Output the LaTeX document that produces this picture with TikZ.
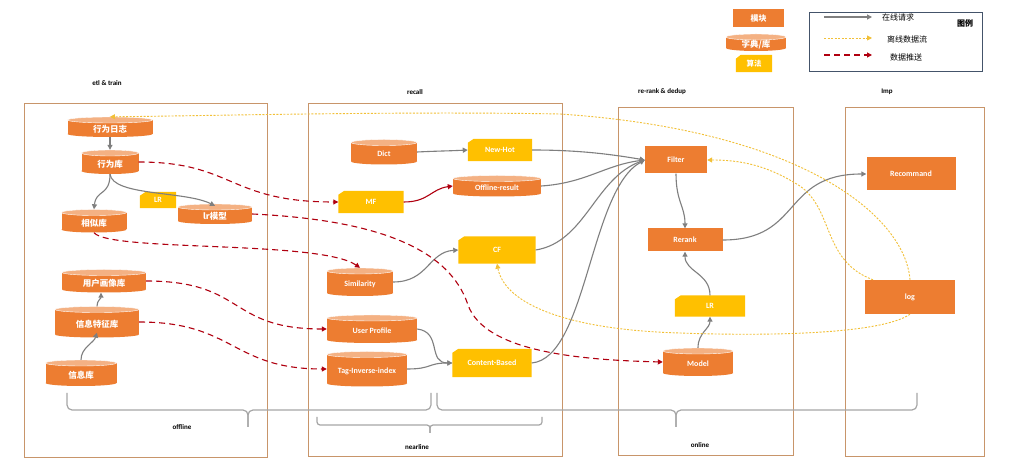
\documentclass[tikz,border=0pt]{standalone}
\usepackage{fontspec}
\setmainfont{Carlito}
\newfontfamily\cjk{Noto Sans CJK SC}
\usetikzlibrary{arrows.meta,calc}
\definecolor{modorange}{HTML}{ED7D31}
\definecolor{cyltopc}{HTML}{F4B183}
\definecolor{algyellow}{HTML}{FFC000}
\definecolor{flowgray}{HTML}{7F7F7F}
\definecolor{pushred}{HTML}{B00010}
\definecolor{offyellow}{HTML}{F2C037}
\definecolor{framec}{HTML}{C8956A}
\definecolor{bracec}{HTML}{A6A6A6}
\definecolor{legendc}{HTML}{44546A}
\tikzset{
  box/.style={inner sep=0pt},
  celltext/.style={text=white, font=\bfseries\fontsize{8}{9}\selectfont, inner sep=0pt},
  cjktext/.style={text=white, font=\cjk\bfseries\fontsize{8.5}{9}\selectfont, inner sep=0pt},
  modbox/.style={fill=modorange, inner sep=0pt, text=white, font=\bfseries\fontsize{8}{9}\selectfont},
  titletext/.style={font=\bfseries\fontsize{7}{8}\selectfont, inner sep=0pt},
  frame/.style={draw=framec, line width=0.8pt},
  flow/.style={draw=flowgray, line width=1.1pt, -{Triangle[length=5pt,width=5pt]}},
  redflow/.style={draw=pushred, line width=1.1pt, -{Triangle[length=5pt,width=5pt]}},
  push/.style={draw=pushred, line width=1.1pt, dash pattern=on 6pt off 4pt, -{Triangle[length=5pt,width=5pt]}},
  offline/.style={draw=offyellow, line width=0.9pt, dash pattern=on 2pt off 1.5pt, -{Triangle[length=5pt,width=5pt]}},
  bracel/.style={draw=bracec, line width=1.2pt, rounded corners=5pt},
  legtext/.style={font=\cjk\fontsize{8}{9}\selectfont, inner sep=0pt},
}
% cylinder: name, cx, cy, w, h, text, textstyle
\newcommand\cylnode[7]{%
  \node[box, minimum width=#4pt, minimum height=#5pt] (#1) at (#2,#3) {};
  \fill[modorange] (#2-#4/2,#3-#5/2+3) rectangle (#2+#4/2,#3+#5/2-3);
  \fill[modorange] (#2,#3+#5/2-3) ellipse [x radius=#4/2, y radius=3];
  \fill[cyltopc, draw=white, line width=0.4pt] (#2,#3-#5/2+3) ellipse [x radius=#4/2, y radius=3];
  \node[#7] at (#2,#3+2) {#6};
}
% algorithm box with cut corner: name, cx, cy, w, h, text
\newcommand\algnode[6]{%
  \node[box, minimum width=#4pt, minimum height=#5pt] (#1) at (#2,#3) {};
  \fill[algyellow] ($(#1.north west)+(6,0)$) -- (#1.north east) -- (#1.south east) -- (#1.south west) -- ($(#1.north west)+(0,4)$) -- cycle;
  \node[celltext] at (#1) {#6};
}
\begin{document}
\begin{tikzpicture}[x=1pt,y=-1pt]
\useasboundingbox (0,0) rectangle (1013,470);
\fill[white] (0,0) rectangle (1013,470);

% frames and titles
\draw[frame] (24,103) rectangle (267,457);
\draw[frame] (308,103) rectangle (562,456);
\draw[frame] (618,107) rectangle (793,455);
\draw[frame] (845,107) rectangle (984,456);
\node[titletext] (t1) at (107,83) {etl \& train};
\node[titletext] (t2) at (415,92) {recall};
\node[titletext] (t3) at (662,92) {re-rank \& dedup};
\node[titletext] (t4) at (887,92) {Imp};

% etl & train
\cylnode{rz}{110}{127}{85}{20}{行为日志}{cjktext}
\cylnode{xwk}{110}{162}{57}{24}{行为库}{cjktext}
\cylnode{xsk}{94}{221}{65}{23}{相似库}{cjktext}
\algnode{lra}{158}{200}{36}{16}{LR}
\cylnode{lrm}{215}{214}{74}{20}{lr模型}{cjktext}
\cylnode{yhk}{104}{281}{84}{23}{用户画像库}{cjktext}
\cylnode{xxtz}{97}{322}{84}{31}{信息特征库}{cjktext}
\cylnode{xxk}{81}{373}{71}{26}{信息库}{cjktext}

% recall
\cylnode{dict}{384}{152}{66}{25}{Dict}{celltext}
\algnode{newhot}{500}{150}{64}{22}{New-Hot}
\cylnode{offres}{497}{186}{88}{21}{Offline-result}{celltext}
\algnode{mf}{371}{202}{65}{22}{MF}
\algnode{cf}{497}{250}{77}{27}{CF}
\cylnode{sim}{360}{282}{66}{28}{Similarity}{celltext}
\cylnode{up}{372}{329}{90}{28}{User Profile}{celltext}
\cylnode{tag}{367}{369}{80}{35}{Tag-Inverse-index}{celltext}
\algnode{cb}{492}{363}{79}{28}{Content-Based}

% online
\node[modbox, minimum width=62pt, minimum height=27pt] (filter) at (676,160) {Filter};
\node[modbox, minimum width=75pt, minimum height=23pt] (rerank) at (685,240) {Rerank};
\algnode{lrb}{710}{306}{70}{21}{LR}
\cylnode{model}{698}{362}{70}{28}{Model}{celltext}

% imp
\node[modbox, minimum width=89pt, minimum height=33pt] (rec) at (911,174) {Recommand};
\node[modbox, minimum width=90pt, minimum height=34pt] (log) at (910,297) {log};

% legend
\node[modbox, minimum width=51pt, minimum height=18pt, font=\cjk\bfseries\fontsize{8}{9}\selectfont] (lgmod) at (758.5,18) {模块};
\cylnode{lgdb}{756}{42.5}{60}{17}{字典/库}{cjktext}
\node[box, minimum width=36pt, minimum height=17pt] (lgalg) at (754,63.5) {};
\fill[algyellow] ($(lgalg.north west)+(5,0)$) -- (lgalg.north east) -- (lgalg.south east) -- (lgalg.south west) -- ($(lgalg.north west)+(0,4)$) -- cycle;
\node[cjktext, font=\cjk\bfseries\fontsize{7.5}{9}\selectfont] at (lgalg) {算法};
\draw[draw=legendc, line width=0.8pt] (809,12) rectangle (982,71);
\coordinate (la1) at (824,17); \coordinate (lb1) at (872,17);
\coordinate (la2) at (824,38); \coordinate (lb2) at (872,38);
\coordinate (la3) at (824,55); \coordinate (lb3) at (872,55);
\draw[flow] (la1) -- (lb1);
\draw[offline] (la2) -- (lb2);
\draw[push] (la3) -- (lb3);
\node[legtext] (lt1) at (898,17) {在线请求};
\node[legtext] (lt2) at (907,39) {离线数据流};
\node[legtext] (lt3) at (906,57) {数据推送};
\node[legtext, font=\cjk\bfseries\fontsize{8}{9}\selectfont] (lt4) at (965,23) {图例};

% gray flows
\draw[flow] (rz.south) -- (xwk.north);
\draw[flow] (xwk.south) .. controls +(0,22) and +(2,-20) .. (xsk.north);
\draw[flow] (xwk.south) .. controls +(3,22) and +(-30,-15) .. ([yshift=-2pt]lrm.north);
\draw[flow] (xxk.north) .. controls +(0,-12) and +(-3,10) .. ([yshift=5pt]xxtz.south);
\draw[flow] (xxtz.north) .. controls +(0,-6) and +(0,6) .. ([xshift=-3pt]yhk.south);
\draw[flow] (dict.east) .. controls +(20,-1) and +(-20,1) .. (newhot.west);
\draw[redflow] (mf.east) .. controls +(25,0) and +(-22,3) .. (offres.west);
\draw[flow] (sim.east) .. controls +(35,0) and +(-30,2) .. (cf.west);
\draw[flow] (up.east) .. controls +(25,3) and +(-25,0) .. (cb.west);
\draw[flow] (tag.east) .. controls +(25,0) and +(-25,0) .. (cb.west);
\draw[flow] (newhot.east) .. controls +(45,0) and +(-35,-6) .. (filter.west);
\draw[flow] (offres.east) .. controls +(45,-3) and +(-40,5) .. (filter.west);
\draw[flow] (cf.east) .. controls +(50,-8) and +(-50,18) .. (filter.west);
\draw[flow] (cb.east) .. controls +(55,-5) and +(-55,30) .. (filter.west);
\draw[flow] (filter.south) .. controls +(0,28) and +(0,-22) .. (rerank.north);
\draw[flow] (lrb.north) .. controls +(0,-22) and +(0,20) .. (rerank.south);
\draw[flow] (model.north) .. controls +(0,-15) and +(0,12) .. (lrb.south);
\draw[flow] (rerank.east) .. controls +(80,0) and +(-85,0) .. (rec.west);

% red dashed push
\draw[push] (xwk.east) .. controls +(95,0) and +(-110,0) .. (mf.west);
\draw[push] (lrm.east) .. controls (380,220) and (450,250) .. (468,305) .. controls (485,352) and (580,360) .. (model.west);
\draw[push] (xsk.south) .. controls (110,252) and (320,240) .. (sim.north);
\draw[push] (yhk.east) .. controls +(100,0) and +(-100,0) .. (up.west);
\draw[push] (xxtz.east) .. controls +(95,0) and +(-95,0) .. (tag.west);

% yellow offline
\draw[offline] (log.north) .. controls (905,215) and (800,130) .. (560,114) .. controls (400,111) and (200,116) .. (rz.north);
\draw[offline] ([xshift=-37pt]log.north) .. controls (820,260) and (835,205) .. (795,183) .. controls (765,165) and (740,160) .. (filter.east);
\draw[offline] (log.south) .. controls (880,335) and (760,336) .. (680,333) .. controls (570,330) and (505,305) .. (cf.south);

% braces
\coordinate (b1a) at (67,393); \coordinate (b1m) at (248,427); \coordinate (b1b) at (431,393);
\draw[bracel] (b1a) -- (67,410) -- (248,410) -- (b1m);
\draw[bracel] (b1m) -- (248,410) -- (431,410) -- (b1b);
\coordinate (b2a) at (437,393); \coordinate (b2m) at (676,427); \coordinate (b2b) at (917,393);
\draw[bracel] (b2a) -- (437,410) -- (676,410) -- (b2m);
\draw[bracel] (b2m) -- (676,410) -- (917,410) -- (b2b);
\coordinate (b3a) at (317,417); \coordinate (b3m) at (430,433); \coordinate (b3b) at (542,417);
\draw[bracel, rounded corners=3pt] (b3a) -- (317,425) -- (430,425) -- (b3m);
\draw[bracel, rounded corners=3pt] (b3m) -- (430,425) -- (542,425) -- (b3b);
\node[titletext] (l1) at (182,427) {offline};
\node[titletext] (l2) at (417,447) {nearline};
\node[titletext] (l3) at (700,445) {online};
\end{tikzpicture}
\end{document}
